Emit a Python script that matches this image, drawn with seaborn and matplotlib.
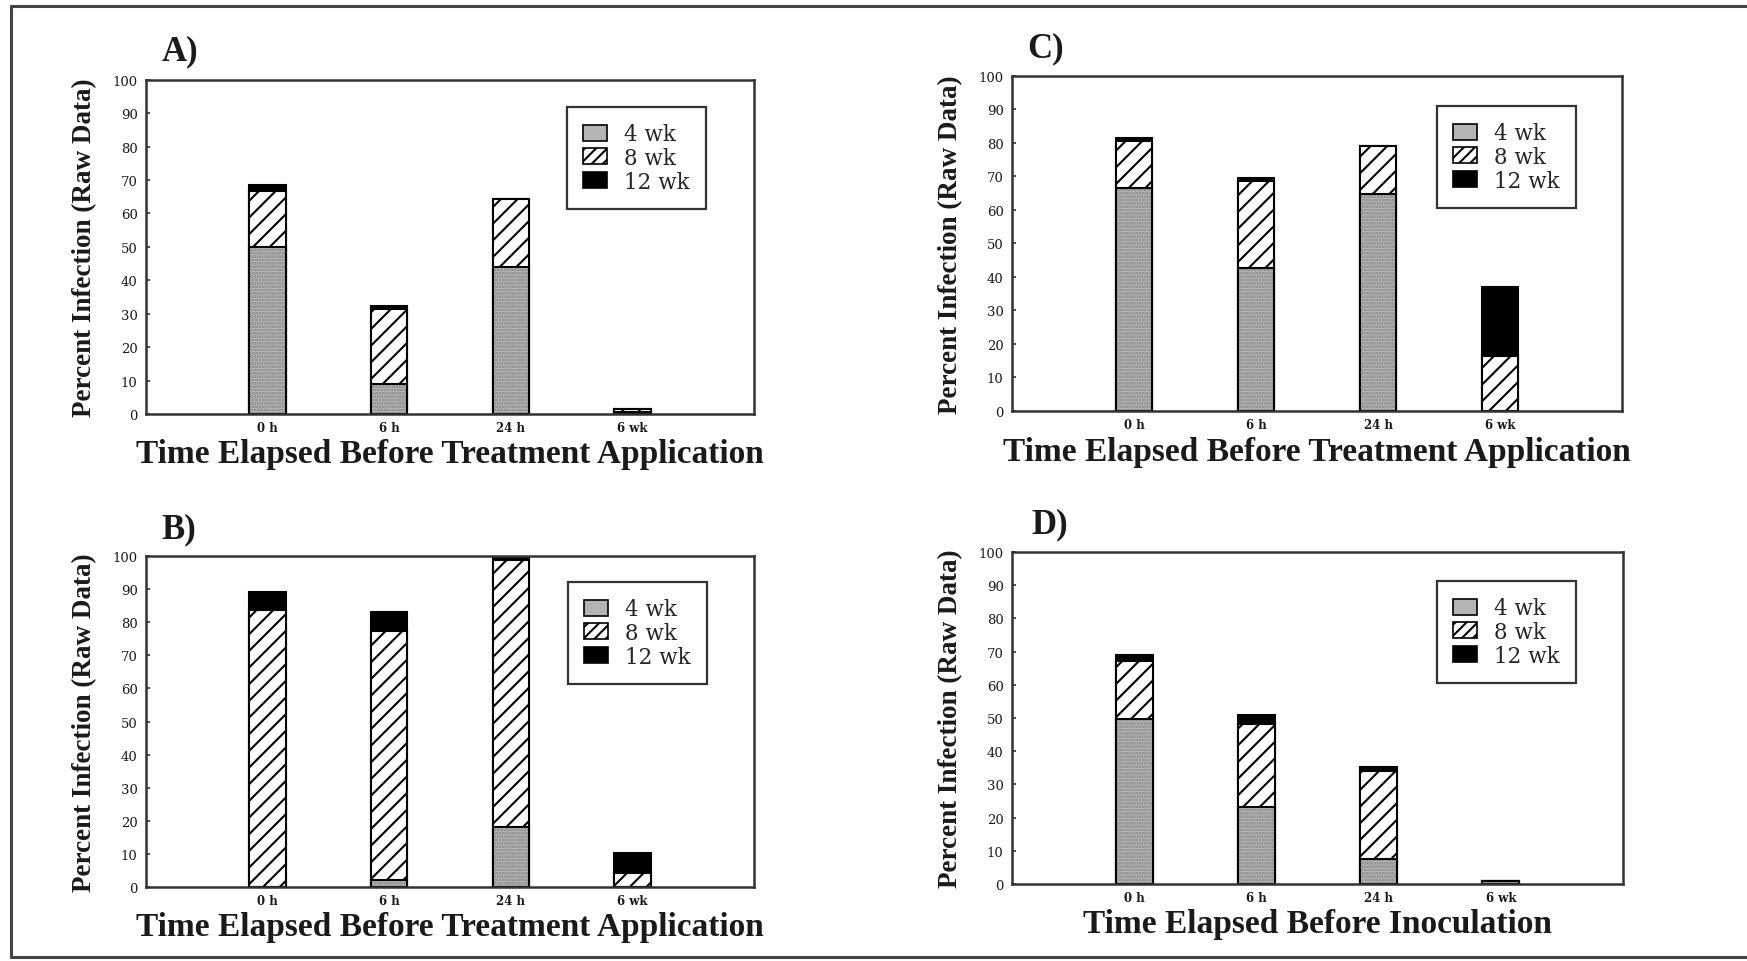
import numpy as np
import matplotlib
matplotlib.use("Agg")
import matplotlib.pyplot as plt
from matplotlib.patches import Patch
import seaborn as sns

# Categories and series
times = ["0 h", "6 h", "24 h", "6 wk"]
stages = ["4 wk", "8 wk", "12 wk"]

# Panel A
a_wk4 = [50.0, 9.0, 44.0, 0.5]
a_wk8 = [16.8, 22.4, 20.4, 1.0]
a_wk12 = [1.8, 1.0, 0.0, 0.0]
# Panel B
b_wk4 = [0.0, 2.0, 18.1, 0.0]
b_wk8 = [83.8, 75.3, 80.6, 4.3]
b_wk12 = [5.3, 5.8, 1.0, 6.0]
# Panel C
c_wk4 = [66.5, 42.7, 64.6, 0.0]
c_wk8 = [13.9, 25.8, 14.5, 16.4]
c_wk12 = [1.0, 1.0, 0.0, 20.7]
# Panel D
d_wk4 = [49.7, 23.1, 7.5, 1.0]
d_wk8 = [17.4, 25.1, 26.4, 0.0]
d_wk12 = [1.9, 2.8, 1.2, 0.0]

panel_labels = ["A)", "B)", "C)", "D)"]
xlabel_treat = "Time Elapsed Before Treatment Application"
xlabel_inoc = "Time Elapsed Before Inoculation"
ylabel_text = "Percent Infection (Raw Data)"
ytick_values = [0, 10, 20, 30, 40, 50, 60, 70, 80, 90, 100]

sns.set_style("white")
plt.rcParams["font.family"] = ["Liberation Serif", "DejaVu Serif"]
plt.rcParams["hatch.linewidth"] = 1.5

W, H = 1747, 962
fig = plt.figure(figsize=(W / 100, H / 100), dpi=100)

INK = "#1a1a1a"
SPINE = "#333333"
GREY = "#bababa"


def rect(left, top, right, bottom):
    return [left / W, 1 - bottom / H, (right - left) / W, (bottom - top) / H]


def draw_panel(box, wk4, wk8, wk12, label, label_xy, xlabel, legend_xy, ylab_x):
    ax = fig.add_axes(rect(*box))
    c1 = np.array(wk4)
    c2 = c1 + np.array(wk8)
    c3 = c2 + np.array(wk12)
    common = dict(x=times, order=times, ax=ax, width=0.3, errorbar=None,
                  saturation=1)
    # 12 wk on top (drawn as full stack height)
    sns.barplot(y=c3, color="black", edgecolor="black", linewidth=1.5, **common)
    # 8 wk hatched
    sns.barplot(y=c2, color="white", edgecolor="black", linewidth=1.5,
                hatch="//", **common)
    # 4 wk stippled grey
    sns.barplot(y=c1, color=GREY, edgecolor="#858585", linewidth=0,
                hatch=".....", **common)
    sns.barplot(y=c1, color="black", fill=False, linewidth=1.5, **common)

    ax.set_xlim(-1, 4)
    ax.set_ylim(0, 100)
    ax.set_yticks(ytick_values)
    ax.set_yticklabels([str(v) for v in ytick_values],
                       fontfamily="DejaVu Serif", fontsize=9.5, color=INK)
    ax.set_xticks(range(len(times)))
    ax.set_xticklabels(times, fontfamily="DejaVu Serif", fontsize=8.5,
                       fontweight="bold", color=INK)
    ax.tick_params(axis="y", direction="in", length=3, width=1.2, pad=6,
                   color=SPINE, left=True)
    ax.tick_params(axis="x", length=0, pad=5)
    for s in ax.spines.values():
        s.set_visible(True)
        s.set_color(SPINE)
        s.set_linewidth(1.8)

    x0, top, x1, bottom = box
    hgt = bottom - top
    wid = x1 - x0
    ax.set_xlabel(xlabel, fontsize=24, fontweight="bold", color=INK)
    ax.xaxis.label.set_va("center")
    ax.xaxis.set_label_coords(0.5, -(40.0 / hgt))
    ax.set_ylabel(ylabel_text, fontsize=19.5, fontweight="bold", color=INK)
    ax.yaxis.label.set_va("center")
    ax.yaxis.set_label_coords((ylab_x - x0) / wid, 0.5)

    handles = [
        Patch(facecolor="#b4b4b4", edgecolor="black", linewidth=1.2),
        Patch(facecolor="white", edgecolor="black", linewidth=1.2, hatch="///"),
        Patch(facecolor="black", edgecolor="black", linewidth=1.2),
    ]
    leg = ax.legend(handles, stages, loc="upper left",
                    bbox_to_anchor=(legend_xy[0] / W, 1 - legend_xy[1] / H),
                    bbox_transform=fig.transFigure, borderaxespad=0,
                    prop={"family": "DejaVu Serif", "size": 15.5},
                    frameon=True, fancybox=False, shadow=False,
                    handlelength=1.1, handleheight=0.75, handletextpad=0.8,
                    labelspacing=0.08, borderpad=0.75)
    frame = leg.get_frame()
    frame.set_edgecolor(SPINE)
    frame.set_linewidth(1.6)
    frame.set_facecolor("white")
    frame.set_alpha(1)

    fig.text(label_xy[0] / W, 1 - label_xy[1] / H, label, fontsize=25,
             fontweight="bold", ha="left", va="center", color=INK)
    return ax


draw_panel((146, 80.7, 754, 415), a_wk4, a_wk8, a_wk12, panel_labels[0],
           (162, 52), xlabel_treat, (567, 108), 85)
draw_panel((146, 557, 754, 888), b_wk4, b_wk8, b_wk12, panel_labels[1],
           (161, 530), xlabel_treat, (568, 583), 85)
draw_panel((1012, 76.7, 1622, 412), c_wk4, c_wk8, c_wk12, panel_labels[2],
           (1027, 49), xlabel_treat, (1437, 107), 951)
draw_panel((1012, 553, 1623, 885), d_wk4, d_wk8, d_wk12, panel_labels[3],
           (1031, 525), xlabel_inoc, (1437, 582), 951)

# Outer frame around the figure (open on the right)
frame_kw = dict(transform=fig.transFigure, color="#444444", linewidth=2.2)
fig.add_artist(plt.Line2D([11 / W, 1.0], [1 - 7 / H, 1 - 7 / H], **frame_kw))
fig.add_artist(plt.Line2D([11 / W, 11 / W], [1 - 7 / H, 1 - 958 / H], **frame_kw))
fig.add_artist(plt.Line2D([11 / W, 1.0], [1 - 958 / H, 1 - 958 / H], **frame_kw))

fig.savefig("out.png", dpi=100, facecolor="white")
